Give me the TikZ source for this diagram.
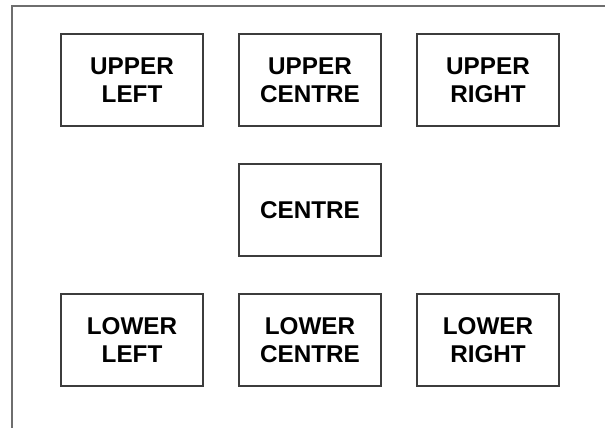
\documentclass[tikz,border=0pt]{standalone}
\usepackage{fontspec}
\setmainfont{Liberation Sans}
\usetikzlibrary{positioning}
\definecolor{framecolor}{RGB}{110,110,110}
\definecolor{boxcolor}{RGB}{60,60,60}
\tikzset{
  region/.style={draw=boxcolor, line width=0.9pt, minimum width=106.5pt,
                 minimum height=69pt, inner sep=0pt, outer sep=0pt,
                 align=center, font=\fontsize{18.2}{21}\selectfont\bfseries},
  frameline/.style={draw=framecolor, line width=1pt},
}
\begin{document}
\begin{tikzpicture}[x=0.75pt, y=-0.75pt, node distance=27pt and 27pt]
  \useasboundingbox (0,0) rectangle (605,428);

  % --- Outer frame ---
  \coordinate (ftopright) at (605,6);
  \coordinate (fcorner) at (12,6);
  \coordinate (fbottom) at (12,428);
  \draw[frameline] (ftopright) -- (fcorner) -- (fbottom);

  % --- Regions ---
  \node[region] (centre) at (310,210) {CENTRE};

  \node[region, above=28.5pt of centre] (uc) {UPPER\\CENTRE};
  \node[region, left=of uc] (ul) {UPPER\\LEFT};
  \node[region, right=of uc] (ur) {UPPER\\RIGHT};

  \node[region, below=28.5pt of centre] (lc) {LOWER\\CENTRE};
  \node[region, left=of lc] (ll) {LOWER\\LEFT};
  \node[region, right=of lc] (lr) {LOWER\\RIGHT};

\end{tikzpicture}
\end{document}
